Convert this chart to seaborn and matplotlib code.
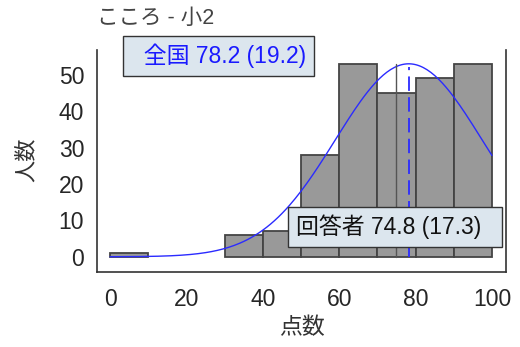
import numpy as np
import pandas as pd
import seaborn as sns
import matplotlib.pyplot as plt

# histogram (bins of 10 points)
bin_edges = [0, 10, 20, 30, 40, 50, 60, 70, 80, 90, 100]
bin_mids = [5, 15, 25, 35, 45, 55, 65, 75, 85, 95]
counts = [1, 0, 0, 6, 7, 28, 53, 45, 49, 53]

# stats
nat_mean, nat_sd = 78.2, 19.2
resp_mean, resp_sd = 74.8, 17.3

title = "こころ - 小2"
xlabel = "点数"
ylabel = "人数"
xticks = [0, 20, 40, 60, 80, 100]
yticks = [0, 10, 20, 30, 40, 50]

sns.set_style("white")
plt.rcParams["font.family"] = ["Liberation Sans", "Noto Sans CJK JP", "DejaVu Sans"]

df = pd.DataFrame({"score": bin_mids, "n": counts})

fig = plt.figure(figsize=(5.2, 3.47), dpi=100)
ax = fig.add_axes([0.186, 0.217, 0.788, 0.639])

sns.histplot(data=df, x="score", weights="n", bins=bin_edges, ax=ax,
             color="#999999", edgecolor="#444444", linewidth=1.3, alpha=1)
for p in ax.patches:
    if p.get_height() == 0:
        p.set_visible(False)

# normal curve for national stats, scaled to the tallest bar
peak = max(counts)
xs = np.linspace(0, 100, 201)
ys = peak * np.exp(-(xs - nat_mean) ** 2 / (2 * nat_sd ** 2))
sns.lineplot(x=xs, y=ys, ax=ax, color="#2b2bff", linewidth=1)

ax.plot([resp_mean, resp_mean], [0, peak], color="#555555", linewidth=1)
ax.plot([nat_mean, nat_mean], [0, peak - 1], color="#2b2bff", linewidth=1.3,
        dashes=(8, 3.5))

ax.set_xlim(-3.5, 103.8)
ax.set_ylim(-4.1, 56.8)
ax.set_xticks(xticks)
ax.set_yticks(yticks)
ax.tick_params(axis="x", length=0, pad=12, labelsize=16.5)
ax.tick_params(axis="y", length=0, pad=9, labelsize=16.5)
ax.set_xlabel("")
ax.set_ylabel("")
for s in ["left", "bottom", "right"]:
    ax.spines[s].set_color("#333333")
    ax.spines[s].set_linewidth(1.2)
ax.spines["top"].set_visible(False)

box = dict(boxstyle="square,pad=0.34", facecolor="#dce6ee", edgecolor="#333333",
           linewidth=1)
fig.text(131 / 520, 1 - 56 / 347, "  全国 78.2 (19.2)", color="#1a1aff",
         fontsize=16.5, ha="left", va="center", bbox=box)
fig.text(296 / 520, 1 - 227 / 347, "回答者 74.8 (17.3)  ", color="#111111",
         fontsize=16.5, ha="left", va="center", bbox=box)

fig.text(97 / 520, 1 - 18 / 347, title, color="#444444", fontsize=15.5,
         ha="left", va="center")
fig.text(302 / 520, 1 - 328 / 347, xlabel, color="#333333", fontsize=16.5,
         ha="center", va="center")
fig.text(27 / 520, 1 - 160 / 347, ylabel, color="#333333", fontsize=16,
         ha="center", va="center", rotation=90)

fig.savefig("out.png", dpi=100)
